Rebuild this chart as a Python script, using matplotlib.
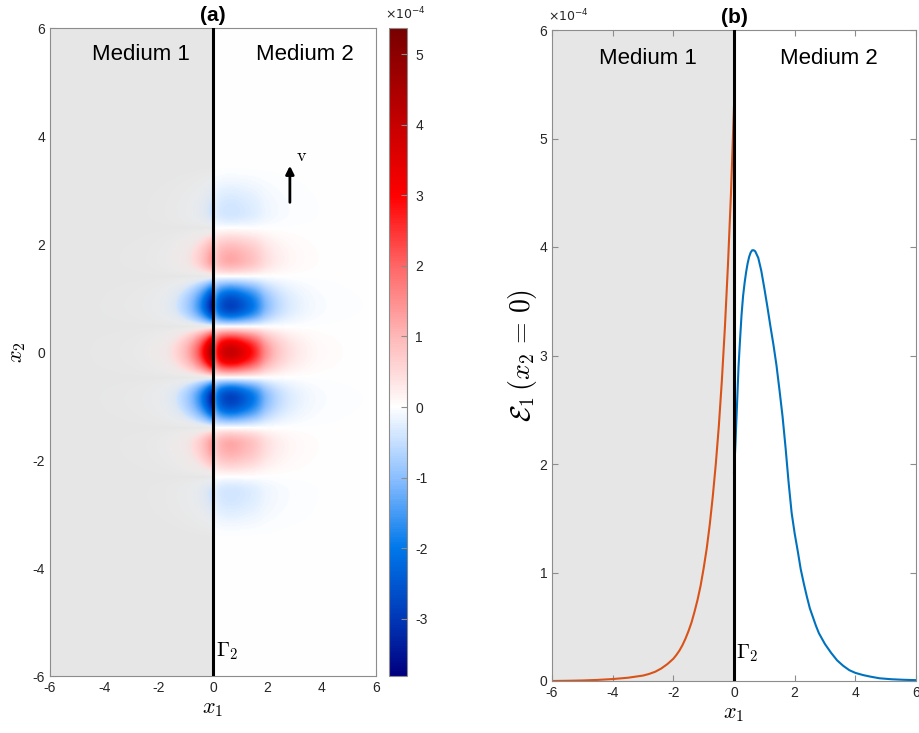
import matplotlib
matplotlib.use('Agg')
import matplotlib.pyplot as plt
import numpy as np
from matplotlib.colors import LinearSegmentedColormap, Normalize
from matplotlib.cm import ScalarMappable

plt.rcParams['font.family'] = ['Liberation Sans', 'DejaVu Sans']
plt.rcParams['mathtext.fontset'] = 'cm'
plt.rcParams['axes.unicode_minus'] = False

# all field values are in units of 1e-4
# E1(x2=0), medium 1 (x1 < 0)
x_left = [-6.0, -5.5, -5.0, -4.5, -4.0, -3.5, -3.25, -3.0, -2.8, -2.6, -2.4,
          -2.2, -2.0, -1.9, -1.8, -1.7, -1.6, -1.5, -1.4, -1.3, -1.2, -1.1,
          -1.0, -0.9, -0.8, -0.7, -0.6, -0.5, -0.4, -0.3, -0.2, -0.1, 0.0]
e_left = [0.0, 0.002, 0.005, 0.01, 0.018, 0.03, 0.04, 0.05, 0.065, 0.085, 0.115,
          0.155, 0.205, 0.24, 0.28, 0.33, 0.39, 0.46, 0.54, 0.64, 0.75, 0.88,
          1.04, 1.22, 1.44, 1.70, 2.0, 2.35, 2.77, 3.26, 3.83, 4.49, 5.30]

# E1(x2=0), medium 2 (x1 > 0)
x_right = [0.0, 0.025, 0.05, 0.075, 0.1, 0.15, 0.2, 0.25, 0.3, 0.35, 0.4, 0.45,
           0.5, 0.55, 0.6, 0.65, 0.7, 0.8, 0.9, 1.0, 1.1, 1.2, 1.3, 1.4, 1.5,
           1.6, 1.7, 1.8, 1.9, 2.0, 2.1, 2.2, 2.3, 2.4, 2.5, 2.6, 2.7, 2.8, 2.9,
           3.0, 3.2, 3.4, 3.6, 3.8, 4.0, 4.25, 4.5, 4.8, 5.2, 5.6, 6.0]
e_right = [1.92, 2.05, 2.2, 2.38, 2.55, 2.9, 3.15, 3.38, 3.55, 3.67, 3.77, 3.85,
           3.91, 3.95, 3.97, 3.97, 3.96, 3.9, 3.78, 3.62, 3.45, 3.27, 3.1, 2.91,
           2.68, 2.44, 2.15, 1.83, 1.55, 1.36, 1.2, 1.03, 0.9, 0.78, 0.67, 0.59,
           0.51, 0.44, 0.39, 0.34, 0.26, 0.19, 0.14, 0.1, 0.075, 0.055, 0.04,
           0.025, 0.016, 0.011, 0.008]

# oscillation along x2 (relative), extrema
x2_peaks = [-3.5, -2.62, -1.72, -0.86, 0.0, 0.86, 1.72, 2.6, 3.5]
x2_amps = [0.0, -0.10, 0.30, -0.72, 1.0, -0.72, 0.30, -0.10, 0.0]

vmin, vmax = -3.81, 5.37
cb_ticks = [-3, -2, -1, 0, 1, 2, 3, 4, 5]
xticks = [-6, -4, -2, 0, 2, 4, 6]

# colormap anchors (value, colour)
cm_vals = [vmin, -3.0, -2.0, -1.0, -0.4, 0.0, 0.4, 1.0, 2.0, 3.0, 4.0, vmax]
cm_cols = [(0.0, 0.0, 0.5), (0.0, 0.22, 0.72), (0.0, 0.47, 0.92), (0.55, 0.75, 1.0),
           (0.82, 0.9, 1.0), (1.0, 1.0, 1.0), (1.0, 0.88, 0.88), (1.0, 0.72, 0.72),
           (1.0, 0.4, 0.4), (1.0, 0.0, 0.0), (0.78, 0.0, 0.0), (0.47, 0.0, 0.0)]
cmap = LinearSegmentedColormap.from_list(
    'rwb', [((v - vmin) / (vmax - vmin), c) for v, c in zip(cm_vals, cm_cols)])
norm = Normalize(vmin, vmax)

gray_bg = '#e6e6e6'
axcol = '#8c8c8c'
txtcol = '#262626'
c_orange = (0.85, 0.325, 0.098)
c_blue = (0.0, 0.447, 0.741)


def cos_blend(pos, vals, g):
    out = np.zeros_like(g)
    for i in range(len(pos) - 1):
        m = (g >= pos[i]) & (g <= pos[i + 1])
        t = (g[m] - pos[i]) / (pos[i + 1] - pos[i])
        w = (1 - np.cos(np.pi * t)) / 2
        out[m] = vals[i] + (vals[i + 1] - vals[i]) * w
    return out


# build field for panel (a)
g = np.linspace(-6, 6, 601)
prof = np.where(g < 0, np.interp(g, x_left, e_left), np.interp(g, x_right, e_right))
mod = cos_blend(x2_peaks, x2_amps, g)
field = mod[:, None] * prof[None, :]
rgba = cmap(norm(field))
thr = 0.42
mag = np.abs(field)
alpha = np.where(mag >= thr, 1.0, 0.6 * (mag / thr) ** 0.7)
alpha[:, g >= 0] = 1.0
rgba[..., 3] = alpha

fig = plt.figure(figsize=(9.19, 7.33), dpi=100)

# ---- panel (a)
ax1 = fig.add_axes([50 / 919, 57 / 733, 326 / 919, 648 / 733])
ax1.set_axisbelow(True)
ax1.axvspan(-6, 0, color=gray_bg, zorder=0.8, lw=0)
ax1.imshow(rgba, extent=[-6, 6, -6, 6], origin='lower', aspect='auto',
           interpolation='bilinear', zorder=1)
ax1.axvline(0, color='black', lw=2.2, zorder=3)
ax1.set_xlim(-6, 6)
ax1.set_ylim(-6, 6)
ax1.set_xticks(xticks)
ax1.set_yticks(xticks)
ax1.text(-2.65, 5.5, 'Medium 1', fontsize=16, ha='center', va='center', zorder=4)
ax1.text(3.39, 5.5, 'Medium 2', fontsize=16, ha='center', va='center', zorder=4)
ax1.text(0.12, -5.55, r'$\Gamma_2$', fontsize=15, ha='left', va='center', zorder=4)
ax1.annotate('', xy=(2.83, 3.5), xytext=(2.83, 2.72),
             arrowprops=dict(arrowstyle='-|>', color='black', lw=2,
                             mutation_scale=12), zorder=4)
ax1.text(3.05, 3.62, r'$\mathrm{v}$', fontsize=13, ha='left', va='center', zorder=4)
ax1.set_xlabel(r'$x_1$', fontsize=16, labelpad=2)
ax1.set_ylabel(r'$x_2$', fontsize=16, labelpad=3)
ax1.set_title('(a)', fontsize=15, fontweight='bold', pad=5)

# colorbar
cax = fig.add_axes([389 / 919, 57 / 733, 18 / 919, 648 / 733])
cb = fig.colorbar(ScalarMappable(norm=norm, cmap=cmap), cax=cax, ticks=cb_ticks)
cb.outline.set_edgecolor(axcol)
cb.ax.tick_params(direction='in', length=4, color=axcol, labelcolor=txtcol,
                  labelsize=10, pad=6)
fig.text(405 / 919, 1 - 14 / 733, r'$\times10^{-4}$', fontsize=9,
         color=txtcol, ha='center', va='center', math_fontfamily='dejavusans')

# ---- panel (b)
ax2 = fig.add_axes([552 / 919, 52 / 733, 364 / 919, 651 / 733])
ax2.axvspan(-6, 0, color=gray_bg, zorder=0, lw=0)
ax2.plot(x_left, e_left, color=c_orange, lw=1.5, zorder=2)
ax2.plot(x_right, e_right, color=c_blue, lw=1.5, zorder=2)
ax2.axvline(0, color='black', lw=2.2, zorder=3)
ax2.set_xlim(-6, 6)
ax2.set_ylim(0, 6)
ax2.set_xticks(xticks)
ax2.set_yticks([0, 1, 2, 3, 4, 5, 6])
ax2.text(-2.85, 5.74, 'Medium 1', fontsize=16, ha='center', va='center')
ax2.text(3.12, 5.74, 'Medium 2', fontsize=16, ha='center', va='center')
ax2.text(0.08, 0.26, r'$\Gamma_2$', fontsize=15, ha='left', va='center')
ax2.set_xlabel(r'$x_1$', fontsize=16, labelpad=2)
ax2.set_ylabel(r'$\mathcal{E}_1\,(x_2 \,=\, 0)$', fontsize=20)
ax2.yaxis.set_label_coords(-0.036, 0.5)
ax2.set_title('(b)', fontsize=15, fontweight='bold', pad=5)
fig.text(568 / 919, 1 - 16 / 733, r'$\times10^{-4}$', fontsize=9,
         color=txtcol, ha='center', va='center', math_fontfamily='dejavusans')

for ax in (ax1, ax2):
    for s in ax.spines.values():
        s.set_color(axcol)
        s.set_linewidth(0.8)
    ax.tick_params(direction='in', length=4, color=axcol, labelcolor=txtcol,
                   labelsize=10, top=True, right=True)
ax1.tick_params(top=False, right=False)

fig.savefig('out.png', dpi=100)
